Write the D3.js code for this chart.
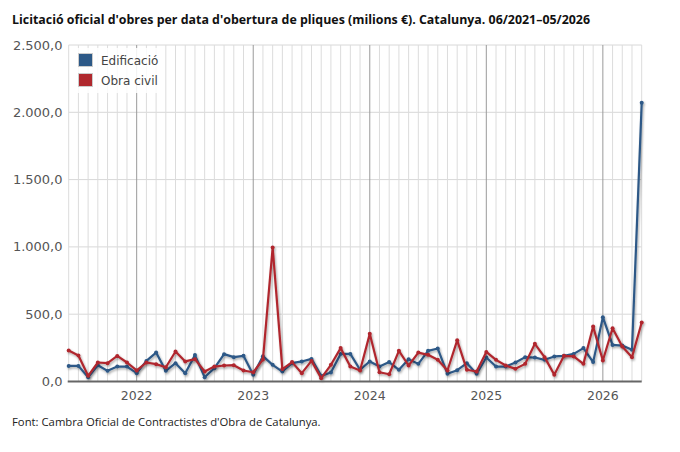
<!DOCTYPE html>
<html><head><meta charset="utf-8">
<script src="https://cdn.jsdelivr.net/npm/d3@7/dist/d3.min.js"></script>
<style>
body{margin:0;background:#fff;font-family:"Open Sans",sans-serif;}
svg{display:block;}
.ax{font-family:"DejaVu Sans",Verdana,sans-serif;}
</style></head>
<body><svg id="c" width="680" height="452"></svg>
<script>
const months = ["2021-06","2021-07","2021-08","2021-09","2021-10","2021-11","2021-12",
"2022-01","2022-02","2022-03","2022-04","2022-05","2022-06","2022-07","2022-08","2022-09","2022-10","2022-11","2022-12",
"2023-01","2023-02","2023-03","2023-04","2023-05","2023-06","2023-07","2023-08","2023-09","2023-10","2023-11","2023-12",
"2024-01","2024-02","2024-03","2024-04","2024-05","2024-06","2024-07","2024-08","2024-09","2024-10","2024-11","2024-12",
"2025-01","2025-02","2025-03","2025-04","2025-05","2025-06","2025-07","2025-08","2025-09","2025-10","2025-11","2025-12",
"2026-01","2026-02","2026-03","2026-04","2026-05"];
const edificacio = [116,116,32,121,79,111,111,62,153,215,79,136,62,196,32,99,203,181,191,50,188,124,74,136,149,168,42,67,205,205,87,149,111,144,87,166,131,228,245,57,84,136,57,178,111,111,141,181,178,161,186,191,205,248,144,478,272,267,235,2071];
const obraCivil = [230,193,42,141,136,190,141,82,141,129,106,223,149,166,74,111,119,121,82,69,163,995,92,144,62,153,25,124,248,111,82,354,69,54,228,119,215,198,161,82,306,87,74,220,161,119,94,131,280,181,50,191,186,131,408,156,396,260,181,438];
const yTicks = [0,500,1000,1500,2000,2500];
const seriesNames = ["Edificació","Obra civil"];
const colors = ["#2d5987","#b0282e"];
const title = "Licitació oficial d'obres per data d'obertura de pliques (milions €). Catalunya. 06/2021–05/2026";
const source = "Font: Cambra Oficial de Contractistes d'Obra de Catalunya.";

const svg = d3.select("#c");
const L = 68.7, R = 641.7, T = 45, B = 381.5;
const x = d3.scalePoint().domain(months).range([L, R]);
const y = d3.scaleLinear().domain([0, 2500]).range([B, T]);
const loc = d3.formatLocale({decimal:",", thousands:".", grouping:[3], currency:["","€"]});
const fmt = loc.format(",.1f");

const defs = svg.append("defs");
const f = defs.append("filter").attr("id","sh").attr("x","-10%").attr("y","-10%").attr("width","120%").attr("height","120%");
f.append("feDropShadow").attr("dx",1).attr("dy",1.5).attr("stdDeviation",1).attr("flood-color","#000").attr("flood-opacity",0.35);

svg.append("text").attr("x",12).attr("y",23.5).attr("font-size",12.4).attr("font-weight","bold").attr("fill","#111").text(title);

// horizontal grid
svg.append("g").selectAll("line").data(yTicks.filter(d=>d>0)).join("line")
  .attr("x1",L).attr("x2",R).attr("y1",d=>y(d)).attr("y2",d=>y(d))
  .attr("stroke","#d8d8d8").attr("stroke-width",1);
// vertical monthly grid
svg.append("g").selectAll("line").data(months.filter(m=>!m.endsWith("-01"))).join("line")
  .attr("x1",d=>x(d)).attr("x2",d=>x(d)).attr("y1",T).attr("y2",B)
  .attr("stroke","#dcdcdc").attr("stroke-width",1);
const yearMonths = months.filter(m=>m.endsWith("-01"));
svg.append("g").selectAll("line").data(yearMonths).join("line")
  .attr("x1",d=>x(d)).attr("x2",d=>x(d)).attr("y1",T).attr("y2",B)
  .attr("stroke","#9a9a9a").attr("stroke-width",1);

// y axis labels
svg.append("g").attr("class","ax").selectAll("text").data(yTicks).join("text")
  .attr("x",62.5).attr("y",d=>y(d)+4.5).attr("text-anchor","end")
  .attr("font-size",13).attr("fill","#555").text(d=>fmt(d));
// x labels
svg.append("g").attr("class","ax").selectAll("text").data(yearMonths).join("text")
  .attr("x",d=>x(d)).attr("y",400).attr("text-anchor","middle")
  .attr("font-size",12.5).attr("fill","#555").text(d=>d.slice(0,4));

// series
const data = [edificacio, obraCivil];
const line = d3.line().x((d,i)=>x(months[i])).y(d=>y(d));
data.forEach((vals,k)=>{
  const g = svg.append("g").attr("filter","url(#sh)");
  g.append("path").attr("d",line(vals)).attr("fill","none").attr("stroke",colors[k]).attr("stroke-width",2.2).attr("stroke-linejoin","round");
  g.selectAll("circle").data(vals).join("circle").attr("cx",(d,i)=>x(months[i])).attr("cy",d=>y(d)).attr("r",2).attr("fill",colors[k]);
});

// bottom axis line
svg.append("line").attr("x1",L-1).attr("x2",R).attr("y1",B).attr("y2",B).attr("stroke","#666").attr("stroke-width",2);

// legend
const lg = svg.append("g").attr("class","ax");
lg.append("rect").attr("x",74).attr("y",48).attr("width",88).attr("height",45).attr("fill","#fff").attr("fill-opacity",0.85);
seriesNames.forEach((n,k)=>{
  lg.append("rect").attr("x",78.5).attr("y",53.5+k*20).attr("width",14).attr("height",13).attr("fill",colors[k]).attr("stroke","#ccc").attr("stroke-width",1);
  lg.append("text").attr("x",101).attr("y",65+k*20).attr("font-size",12).attr("fill","#444").text(n);
});

svg.append("text").attr("x",12).attr("y",426).attr("font-size",11.3).attr("fill","#222").text(source);
</script></body></html>
